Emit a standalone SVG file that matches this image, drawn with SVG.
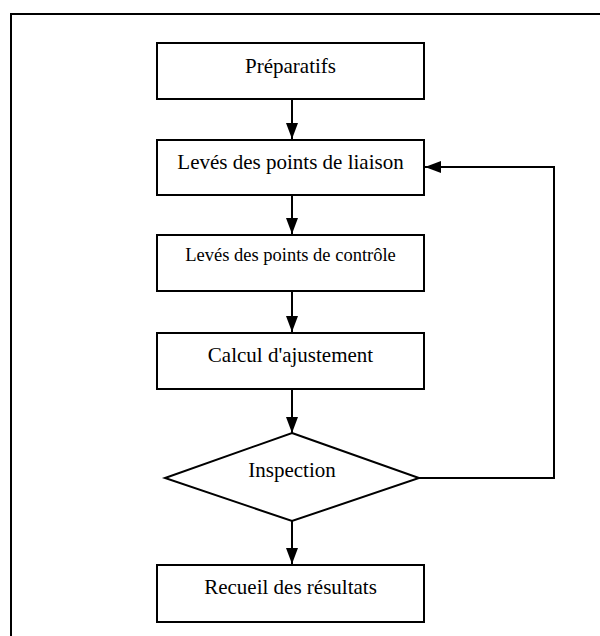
<svg xmlns="http://www.w3.org/2000/svg" width="600" height="636" viewBox="0 0 600 636">
<style>
.box{fill:#fff;stroke:#000;stroke-width:2}
.lbl{font-family:"Liberation Serif","Times New Roman",serif;font-size:21px;fill:#000;text-anchor:middle}
.con{fill:none;stroke:#000;stroke-width:2}
</style>
<defs>
<marker id="ah" markerUnits="userSpaceOnUse" markerWidth="16" markerHeight="12" refX="16" refY="6" orient="auto">
<path d="M0,0 L16,6 L0,12 z" fill="#000"/>
</marker>
</defs>
<rect width="600" height="636" fill="#fff"/>
<path d="M11,636 V14 H600" fill="none" stroke="#000" stroke-width="2"/>
<g id="connectors">
<line class="con" x1="292" y1="99" x2="292" y2="139" marker-end="url(#ah)"/>
<line class="con" x1="292" y1="195" x2="292" y2="234" marker-end="url(#ah)"/>
<line class="con" x1="292" y1="291" x2="292" y2="332" marker-end="url(#ah)"/>
<line class="con" x1="292" y1="389" x2="292" y2="433" marker-end="url(#ah)"/>
<line class="con" x1="292" y1="521" x2="292" y2="564" marker-end="url(#ah)"/>
<polyline class="con" points="419,478 554,478 554,167 425,167" marker-end="url(#ah)"/>
</g>
<g id="preparatifs">
<rect class="box" x="157" y="43" width="267" height="56"/>
<text class="lbl" x="290.5" y="73">Préparatifs</text>
</g>
<g id="liaison">
<rect class="box" x="157" y="140" width="267" height="55"/>
<text class="lbl" x="290.5" y="169">Levés des points de liaison</text>
</g>
<g id="controle">
<rect class="box" x="157" y="235" width="267" height="56"/>
<text class="lbl" x="290.5" y="261" style="font-size:18.5px">Levés des points de contrôle</text>
</g>
<g id="ajustement">
<rect class="box" x="157" y="333" width="267" height="56"/>
<text class="lbl" x="290.5" y="362">Calcul d'ajustement</text>
</g>
<g id="inspection">
<polygon class="box" points="292,433 419,478 292,521 165,478"/>
<text class="lbl" x="292" y="477">Inspection</text>
</g>
<g id="resultats">
<rect class="box" x="157" y="565" width="267" height="57"/>
<text class="lbl" x="290.5" y="594">Recueil des résultats</text>
</g>
</svg>
